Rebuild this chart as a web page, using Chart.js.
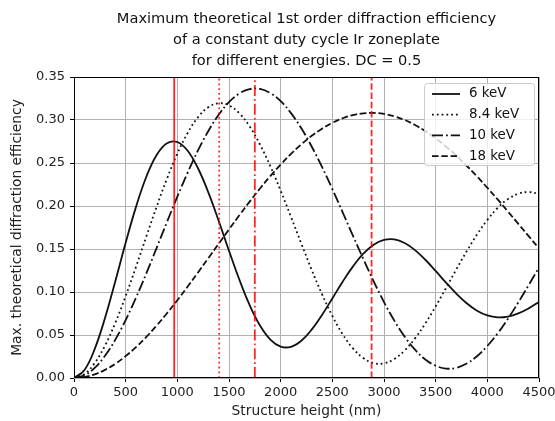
<!DOCTYPE html>
<html lang="en">
<head>
<meta charset="UTF-8">
<title>Ir zoneplate efficiency</title>
<style>
  html, body { margin: 0; padding: 0; background: #fff; }
  #wrap { width: 555px; height: 421px; }
</style>
</head>
<body>
<div id="wrap"><canvas id="myChart" width="555" height="421"></canvas></div>

<script src="https://cdn.jsdelivr.net/npm/chart.js"></script>
<script>
// structure heights in nm
var heights = [0, 100, 200, 300, 400, 500, 600, 700, 800, 900,
    1000, 1100, 1200, 1300, 1400, 1500, 1600, 1700, 1800, 1900,
    2000, 2100, 2200, 2300, 2400, 2500, 2600, 2700, 2800, 2900,
    3000, 3100, 3200, 3300, 3400, 3500, 3600, 3700, 3800, 3900,
    4000, 4100, 4200, 4300, 4400, 4500];

// 1st order efficiency per energy
var eff6 = [0, 0.0090, 0.0336, 0.0697, 0.1126, 0.1572, 0.1990, 0.2340, 0.2593, 0.2729,
    0.2744, 0.2642, 0.2439, 0.2158, 0.1828, 0.1480, 0.1145, 0.0847, 0.0610, 0.0447,
    0.0365, 0.0363, 0.0433, 0.0562, 0.0733, 0.0925, 0.1120, 0.1298, 0.1445, 0.1550,
    0.1605, 0.1611, 0.1569, 0.1487, 0.1375, 0.1245, 0.1109, 0.0981, 0.0869, 0.0783,
    0.0728, 0.0705, 0.0714, 0.0751, 0.0810, 0.0884];
var eff84 = [0, 0.0045, 0.0174, 0.0377, 0.0642, 0.0953, 0.1293, 0.1645, 0.1993, 0.2319,
    0.2609, 0.2849, 0.3032, 0.3148, 0.3195, 0.3170, 0.3079, 0.2924, 0.2715, 0.2463,
    0.2178, 0.1873, 0.1563, 0.1259, 0.0975, 0.0722, 0.0509, 0.0344, 0.0232, 0.0174,
    0.0171, 0.0222, 0.0321, 0.0461, 0.0635, 0.0833, 0.1046, 0.1263, 0.1473, 0.1668,
    0.1838, 0.1978, 0.2080, 0.2142, 0.2162, 0.2141];
var eff10 = [0, 0.0030, 0.0117, 0.0258, 0.0446, 0.0674, 0.0934, 0.1217, 0.1514, 0.1814,
    0.2109, 0.2389, 0.2646, 0.2872, 0.3061, 0.3208, 0.3308, 0.3359, 0.3361, 0.3313,
    0.3219, 0.3080, 0.2903, 0.2692, 0.2454, 0.2197, 0.1927, 0.1653, 0.1383, 0.1124,
    0.0883, 0.0667, 0.0481, 0.0329, 0.0216, 0.0143, 0.0110, 0.0119, 0.0168, 0.0253,
    0.0372, 0.0519, 0.0690, 0.0879, 0.1080, 0.1285];
var eff18 = [0, 0.0011, 0.0043, 0.0095, 0.0166, 0.0254, 0.0359, 0.0478, 0.0610, 0.0753,
    0.0904, 0.1063, 0.1227, 0.1394, 0.1561, 0.1728, 0.1892, 0.2051, 0.2203, 0.2348,
    0.2482, 0.2606, 0.2717, 0.2816, 0.2899, 0.2967, 0.3020, 0.3057, 0.3077, 0.3082,
    0.3070, 0.3043, 0.3000, 0.2942, 0.2871, 0.2787, 0.2691, 0.2584, 0.2468, 0.2344,
    0.2212, 0.2076, 0.1935, 0.1792, 0.1649, 0.1506];

// height of maximum efficiency for each energy
var optHeights = [970, 1405, 1750, 2880];
var energies = ['6 keV', '8.4 keV', '10 keV', '18 keV'];

var titleLines = ['Maximum theoretical 1st order diffraction efficiency',
    'of a constant duty cycle Ir zoneplate',
    'for different energies. DC = 0.5'];

var yMax = 0.35;
var xMax = 4500;

// matplotlib-like line styles
var dashes = [[], [1.8, 3], [11, 3, 1.8, 3], [6.5, 2.8]];
var series = [eff6, eff84, eff10, eff18];

var FONT = "'DejaVu Sans', sans-serif";
Chart.defaults.font.family = FONT;
Chart.defaults.color = '#222';

var datasets = [];
// red markers at the optimum heights, drawn on top
optHeights.forEach(function (h, i) {
    datasets.push({
        label: 'opt ' + energies[i],
        data: [{ x: h, y: 0 }, { x: h, y: yMax }],
        borderColor: 'rgba(255, 0, 0, 0.85)',
        borderWidth: 1.8,
        borderDash: dashes[i],
        pointRadius: 0
    });
});
series.forEach(function (vals, i) {
    datasets.push({
        label: energies[i],
        data: heights.map(function (h, k) { return { x: h, y: vals[k] }; }),
        borderColor: '#111',
        borderWidth: 1.8,
        borderDash: dashes[i],
        pointRadius: 0,
        tension: 0.4
    });
});

var decor = {
    id: 'decor',
    afterDraw: function (chart) {
        var ctx = chart.ctx;
        var a = chart.chartArea;
        ctx.save();

        // spines
        ctx.strokeStyle = '#000';
        ctx.lineWidth = 1;
        ctx.strokeRect(a.left + 0.5, a.top + 0.5, a.right - a.left - 1, a.bottom - a.top - 1);

        // title
        ctx.fillStyle = '#111';
        ctx.font = '14.6px ' + FONT;
        ctx.textAlign = 'center';
        ctx.textBaseline = 'middle';
        var cx = (a.left + a.right) / 2;
        titleLines.forEach(function (t, i) {
            ctx.fillText(t, cx, 19 + i * 21);
        });

        // legend box
        var bx = a.right - 115, by = a.top + 6, bw = 110, bh = 82;
        ctx.beginPath();
        ctx.roundRect(bx + 0.5, by + 0.5, bw, bh, 3);
        ctx.fillStyle = 'rgba(255, 255, 255, 0.8)';
        ctx.fill();
        ctx.strokeStyle = '#cccccc';
        ctx.lineWidth = 1;
        ctx.stroke();

        ctx.font = '13.4px ' + FONT;
        ctx.textAlign = 'left';
        energies.forEach(function (lab, i) {
            var yy = by + 11 + i * 20.7;
            ctx.beginPath();
            ctx.setLineDash(dashes[i]);
            ctx.strokeStyle = '#111';
            ctx.lineWidth = 1.8;
            ctx.moveTo(bx + 8, yy);
            ctx.lineTo(bx + 36, yy);
            ctx.stroke();
            ctx.setLineDash([]);
            ctx.fillStyle = '#111';
            ctx.fillText(lab, bx + 45, yy);
        });
        ctx.restore();
    }
};

var chrt = document.getElementById('myChart').getContext('2d');
var chartId = new Chart(chrt, {
    type: 'line',
    data: { datasets: datasets },
    options: {
        responsive: false,
        animation: false,
        layout: { padding: { top: 77, right: 16, bottom: 0, left: 0 } },
        plugins: {
            legend: { display: false },
            title: { display: false },
            tooltip: { enabled: false }
        },
        scales: {
            x: {
                type: 'linear',
                min: 0,
                max: xMax,
                border: { display: false },
                grid: { color: '#b0b0b0', lineWidth: 1, tickColor: '#000', tickLength: 4 },
                ticks: {
                    stepSize: 500,
                    maxRotation: 0,
                    padding: 3,
                    font: { size: 13 },
                    callback: function (v) { return String(v); }
                },
                title: {
                    display: true,
                    text: 'Structure height (nm)',
                    font: { size: 13.8 },
                    padding: { top: 0, bottom: 1 }
                },
                afterFit: function (s) {
                    s.height = 43;
                    s.paddingLeft = 0;
                    s.paddingRight = 0;
                }
            },
            y: {
                min: 0,
                max: yMax,
                border: { display: false },
                grid: { color: '#b0b0b0', lineWidth: 1, tickColor: '#000', tickLength: 4 },
                ticks: {
                    stepSize: 0.05,
                    padding: 5,
                    font: { size: 13 },
                    callback: function (v) { return v.toFixed(2); }
                },
                title: {
                    display: true,
                    text: 'Max. theoretical diffraction efficiency',
                    font: { size: 13.8 },
                    padding: { top: 9, bottom: 0 }
                },
                afterFit: function (s) {
                    s.width = 74;
                    s.paddingTop = 0;
                    s.paddingBottom = 0;
                }
            }
        }
    },
    plugins: [decor]
});
</script>
</body>
</html>
